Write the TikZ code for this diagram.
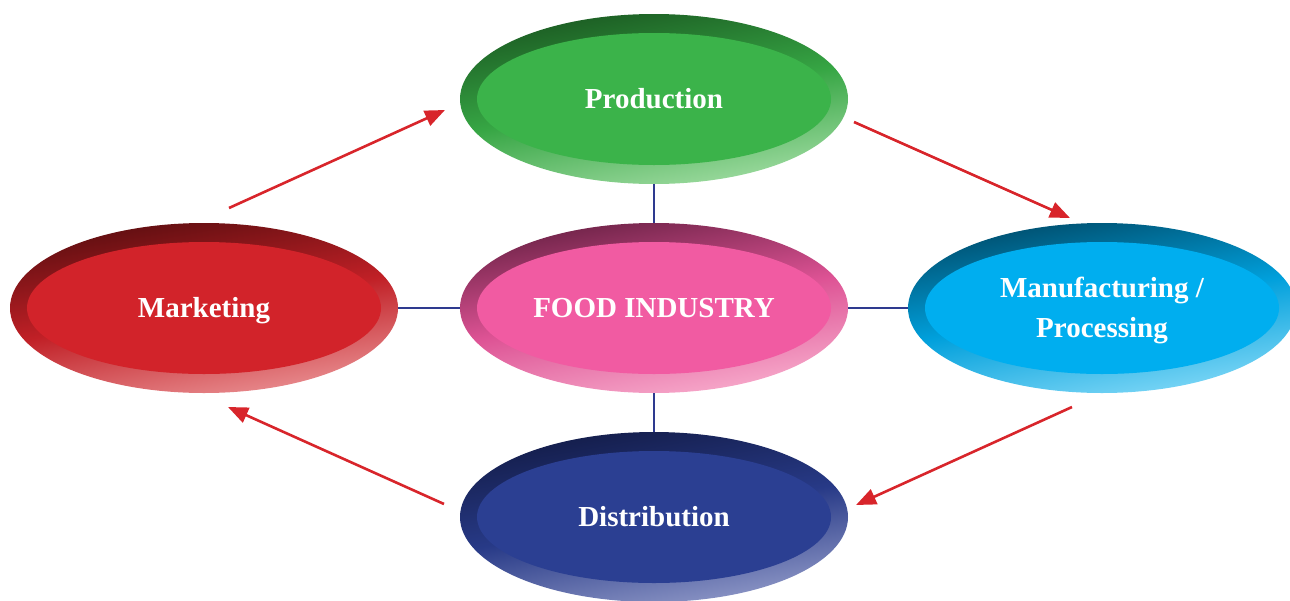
\documentclass[tikz,border=0pt]{standalone}
\usepackage{fontspec}
\setmainfont{Liberation Serif}
\usetikzlibrary{arrows.meta,shapes.geometric}
\definecolor{arrowred}{HTML}{D8252B}
\definecolor{linkblue}{HTML}{2E3A8F}
\definecolor{prodin}{HTML}{3BB34A}
\definecolor{proddk}{HTML}{1B5A22}
\definecolor{prodlt}{HTML}{A0DCA2}
\definecolor{foodin}{HTML}{F15BA2}
\definecolor{fooddk}{HTML}{6C2246}
\definecolor{foodlt}{HTML}{F8ADCD}
\definecolor{markin}{HTML}{D2232A}
\definecolor{markdk}{HTML}{5C0E10}
\definecolor{marklt}{HTML}{EA9093}
\definecolor{manuin}{HTML}{00AEEF}
\definecolor{manudk}{HTML}{004D6C}
\definecolor{manult}{HTML}{80D8F7}
\definecolor{distin}{HTML}{2B3F92}
\definecolor{distdk}{HTML}{131C48}
\definecolor{distlt}{HTML}{9099C8}
\tikzset{
  outerell/.style={ellipse, minimum width=388pt, minimum height=170pt, inner sep=0pt, draw=none},
  innerell/.style={ellipse, minimum width=354pt, minimum height=132pt, inner sep=0pt, draw=none,
     text=white, font=\bfseries\fontsize{29}{40}\selectfont, align=center,
     text height=19.2pt, text depth=0pt},
  twoline/.style={text height=59.2pt},
  link/.style={draw=linkblue, line width=2pt},
  flow/.style={draw=arrowred, line width=2.6pt, -{Triangle[length=20pt,width=16pt]}}
}
\newcommand\bevnode[7][]{%
  \node[outerell, top color=#4, bottom color=#5, middle color=#6!85!#4, shading angle=10] (#2) at #3 {};
  \node[innerell, fill=#6, #1] (#2-in) at #3 {#7};
}
\begin{document}
\begin{tikzpicture}[x=1pt,y=-1pt]
\useasboundingbox (0,0) rectangle (1290,600);
\bevnode{prod}{(654,99)}{proddk}{prodlt}{prodin}{Production}
\bevnode{food}{(654,308)}{fooddk}{foodlt}{foodin}{FOOD INDUSTRY}
\bevnode{mark}{(204,308)}{markdk}{marklt}{markin}{Marketing}
\bevnode[twoline]{manu}{(1102,308)}{manudk}{manult}{manuin}{Manufacturing /\\Processing}
\bevnode{dist}{(654,517)}{distdk}{distlt}{distin}{Distribution}
\draw[link] (food.north) -- (prod.south);
\draw[link] (food.south) -- (dist.north);
\draw[link] (food.west) -- (mark.east);
\draw[link] (food.east) -- (manu.west);
% flow arrows
\coordinate (a1s) at (229,208);
\coordinate (a1e) at (445,110);
\coordinate (a2s) at (854,122);
\coordinate (a2e) at (1070,218);
\coordinate (a3s) at (1072,407);
\coordinate (a3e) at (856,505);
\coordinate (a4s) at (444,504);
\coordinate (a4e) at (228,407);
\draw[flow] (a1s) -- (a1e);
\draw[flow] (a2s) -- (a2e);
\draw[flow] (a3s) -- (a3e);
\draw[flow] (a4s) -- (a4e);
\end{tikzpicture}
\end{document}
